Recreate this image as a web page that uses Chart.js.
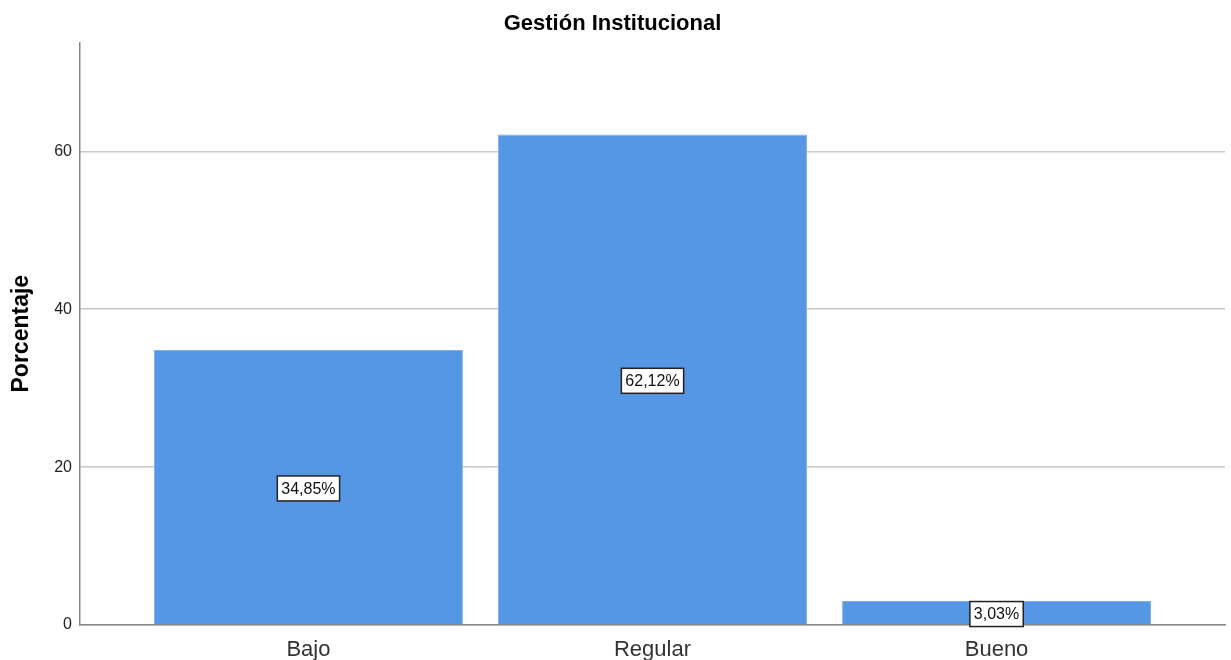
<!DOCTYPE html>
<html lang="es">
  <head>
    <meta charset="UTF-8" />
    <title>Gestión Institucional</title>
    <script src="https://cdn.jsdelivr.net/npm/chart.js@4.4.1/dist/chart.umd.min.js"></script>
    <style>
      html, body { margin: 0; padding: 0; background: #fff; }
      #wrap { width: 1231px; height: 660px; }
    </style>
  </head>
  <body>
    <div id="wrap"><canvas id="gestion-chart"></canvas></div>
    <script>
      const categories = ['Bajo', 'Regular', 'Bueno'];
      const percentages = [34.85, 62.12, 3.03];
      const percentLabels = ['34,85%', '62,12%', '3,03%'];
      const yTicks = [0, 20, 40, 60];

      const barColor = '#5596e5';
      const fontFamily = "Arial, 'Liberation Sans', sans-serif";

      // boxed value label in the middle of each bar
      const boxLabels = {
        id: 'boxLabels',
        afterDatasetsDraw(chart) {
          const ctx = chart.ctx;
          const meta = chart.getDatasetMeta(0);
          const yScale = chart.scales.y;
          ctx.save();
          ctx.font = '16px ' + fontFamily;
          ctx.textAlign = 'center';
          ctx.textBaseline = 'middle';
          meta.data.forEach((bar, i) => {
            const text = percentLabels[i];
            const cx = bar.x;
            const cy = yScale.getPixelForValue(percentages[i] / 2) + 1;
            const w = ctx.measureText(text).width + 8;
            const h = 25;
            ctx.fillStyle = '#fff';
            ctx.fillRect(cx - w / 2, cy - h / 2, w, h);
            ctx.strokeStyle = '#222';
            ctx.lineWidth = 1.5;
            ctx.strokeRect(cx - w / 2, cy - h / 2, w, h);
            ctx.fillStyle = '#111';
            ctx.fillText(text, cx, cy + 1);
          });
          ctx.restore();
        }
      };

      new Chart(document.getElementById('gestion-chart'), {
        type: 'bar',
        data: {
          datasets: [
            {
              label: 'Porcentaje',
              data: percentages.map((v, i) => ({ x: i, y: v })),
              backgroundColor: barColor,
              borderColor: '#7eb0ec',
              borderWidth: { left: 1, right: 1, top: 1, bottom: 0 },
              categoryPercentage: 1,
              barPercentage: 0.898
            }
          ]
        },
        options: {
          responsive: true,
          maintainAspectRatio: false,
          animation: false,
          layout: { padding: { left: 0, right: 6, top: 0, bottom: 0 } },
          plugins: {
            legend: { display: false },
            tooltip: { enabled: false },
            title: {
              display: true,
              text: 'Gestión Institucional',
              color: '#000',
              font: { family: fontFamily, size: 22, weight: 'bold' },
              padding: { top: 11, bottom: 5 }
            }
          },
          scales: {
            x: {
              type: 'linear',
              offset: false,
              min: -0.664,
              max: 2.664,
              afterBuildTicks: (scale) => {
                scale.ticks = categories.map((c, i) => ({ value: i }));
              },
              afterFit: (scale) => {
                scale.height = 35;
              },
              ticks: {
                callback: (v) => categories[v],
                color: '#333',
                padding: 12,
                font: { family: fontFamily, size: 22 }
              },
              grid: { display: false, drawTicks: false },
              border: { display: true, color: '#888', width: 1.5 }
            },
            y: {
              min: 0,
              max: 73.8,
              afterBuildTicks: (scale) => {
                scale.ticks = yTicks.map((v) => ({ value: v }));
              },
              afterFit: (scale) => {
                scale.width = 80;
              },
              ticks: {
                color: '#222',
                padding: 8,
                font: { family: fontFamily, size: 16 }
              },
              grid: { color: '#c8c8c8', lineWidth: 1.5, drawTicks: false },
              border: { display: true, color: '#888', width: 1.5 },
              title: {
                display: true,
                text: 'Porcentaje',
                color: '#000',
                font: { family: fontFamily, size: 23, weight: 'bold' },
                padding: { top: 8, bottom: 0 }
              }
            }
          }
        },
        plugins: [boxLabels]
      });
    </script>
  </body>
</html>
